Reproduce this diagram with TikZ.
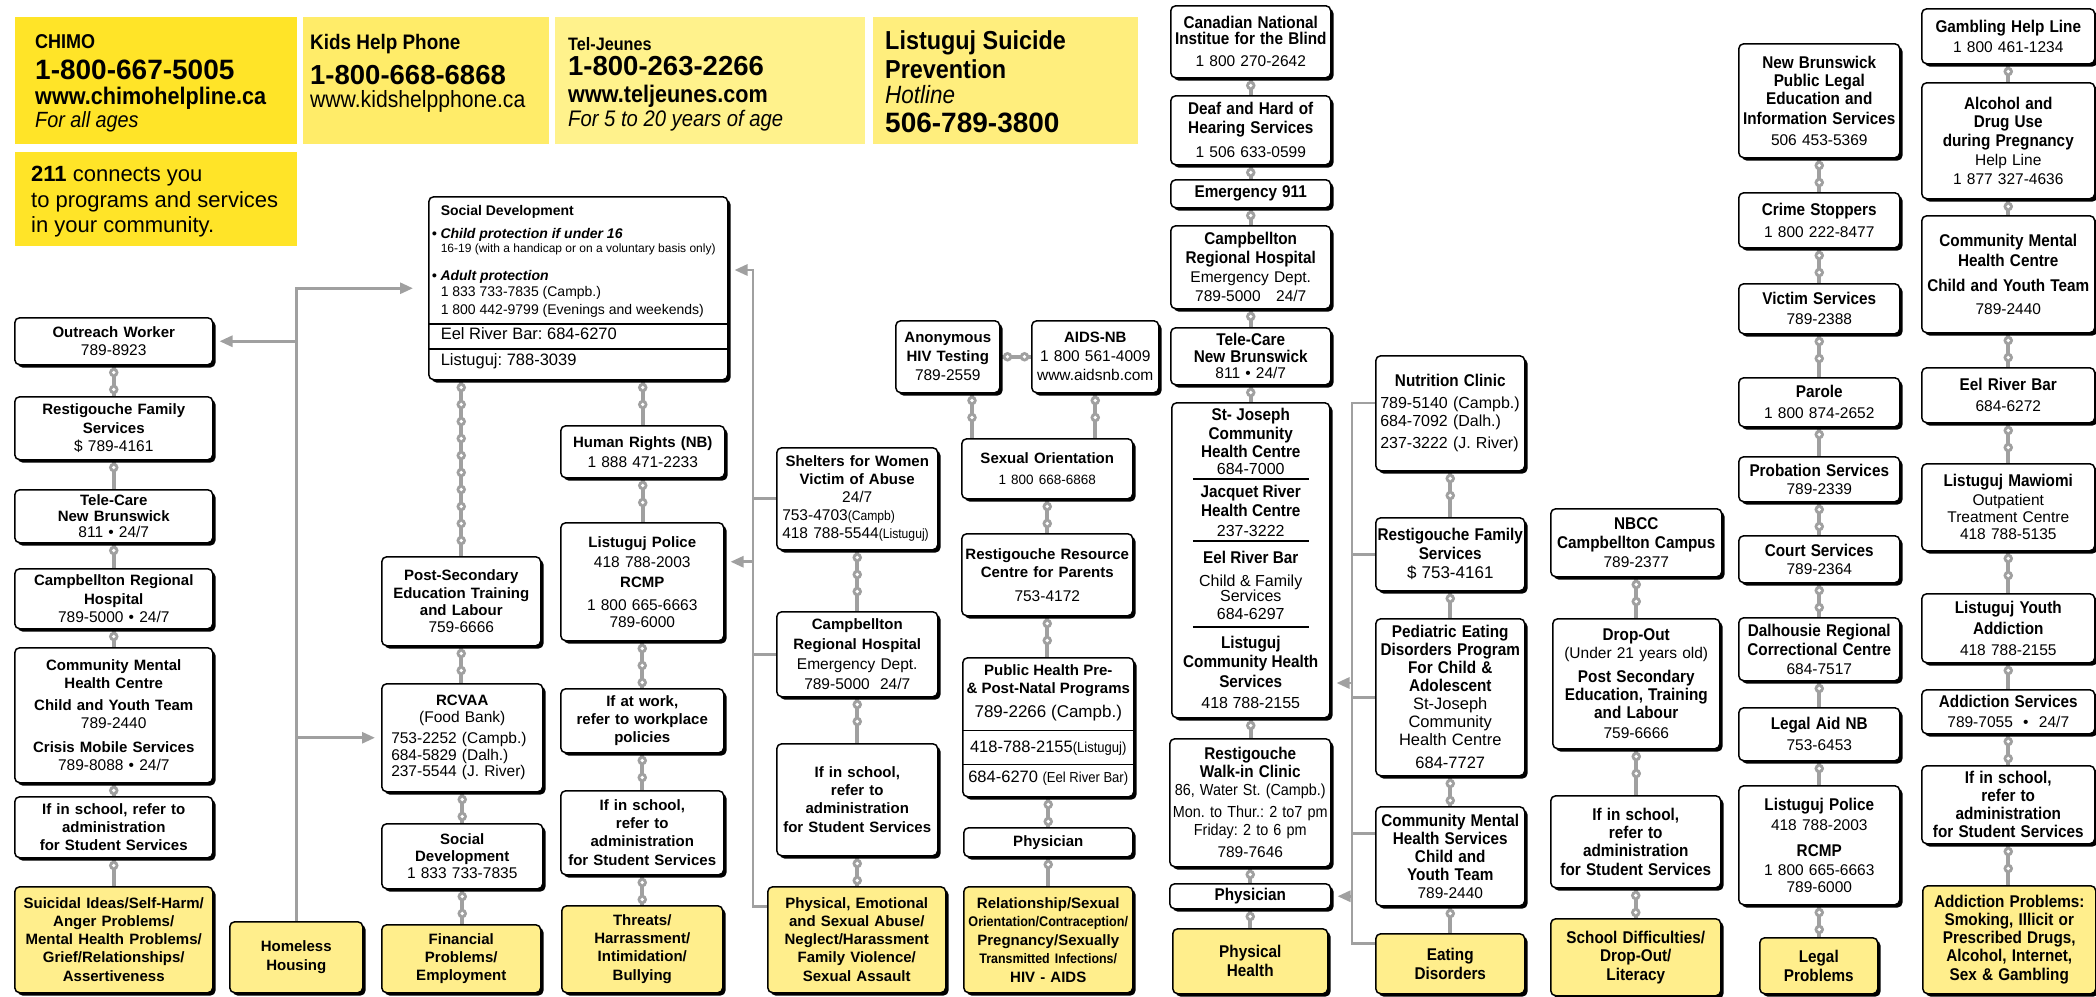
\documentclass[tikz,border=0pt]{standalone}
\usepackage{fontspec}
\setmainfont{Liberation Sans}
\newfontfamily\cond[FakeStretch=0.9]{Liberation Sans}
\frenchspacing
\definecolor{colchain}{RGB}{160,160,160}
\definecolor{colprob}{RGB}{255,238,140}
\definecolor{colchimo}{RGB}{255,228,40}
\definecolor{colkids}{RGB}{255,236,105}
\definecolor{coltel}{RGB}{255,242,140}
\definecolor{collist}{RGB}{255,238,125}
\newcommand{\headw}{\bfseries\fontsize{15}{18}\selectfont}
\newcommand{\headc}{\cond\bfseries\fontsize{17}{18}\selectfont}
\newcommand{\narrowtxt}{\cond\fontsize{13.5}{15}\selectfont}
\newcommand{\lsk}[1]{\baselineskip=#1pt\relax}
\usetikzlibrary{
	arrows.meta,
	shadows,
	backgrounds,
	decorations.markings
}
\tikzset{
	>={Triangle[length=13pt, width=11pt]},
	card/.style={draw, line width=1.5pt, rounded corners=5pt, fill=white, align=center, inner sep=0pt,
		font=\fontsize{15.5}{18.5}\selectfont,
		drop shadow={shadow xshift=2.8pt, shadow yshift=-2.8pt, opacity=1, fill=black}},
	probcard/.style={card, fill=colprob},
	lead/.style={font=\fontsize{15.5}{#1}\selectfont},
	spot/.style args={#1/#2/#3/#4}{
		/utils/exec={\pgfmathsetmacro\cardw{#3-#1}\pgfmathsetmacro\cardh{#4-#2}\pgfmathsetmacro\cardt{#3-#1-2}},
		anchor=north west, at={(#1,#2)},
		minimum width=\cardw pt, minimum height=\cardh pt, text width=\cardt pt},
	helpbox/.style={anchor=north west, inner ysep=0pt},
	chain/.style={draw=colchain, line width=3.6pt,
		postaction={decorate, decoration={markings,
			mark=between positions 7pt and -5pt step 17pt with {\fill[colchain] (0,0) circle (4.8pt); \fill[white] (0,0) circle (1.9pt);}}}},
	branch/.style={draw=colchain, line width=2.8pt},
	feed/.style={branch, ->, shorten >=6pt}
}

\begin{document}
\begin{tikzpicture}[x=1pt, y=-1pt]
	\useasboundingbox (0,0) rectangle (2096,996);

	% help lines along the top
	\node[helpbox, fill=colchimo, inner xsep=20pt] (chimo) at (15,17) {\parbox[c][127pt][t]{242pt}{%
		\vspace*{17pt}
		{\cond\bfseries\fontsize{20}{20}\selectfont CHIMO\par}
		{\bfseries\fontsize{28}{31}\selectfont 1-800-667-5005\par}
		{\cond\bfseries\fontsize{24}{25}\selectfont www.chimohelpline.ca\par}
		{\cond\itshape\fontsize{22}{23}\selectfont For all ages\par}}};
	\node[helpbox, fill=colkids, inner xsep=7pt] (kids) at (303,17) {\parbox[c][127pt][t]{232pt}{%
		\vspace*{17pt}
		{\cond\bfseries\fontsize{21}{21}\selectfont Kids Help Phone\par}
		{\bfseries\fontsize{27.5}{35}\selectfont 1-800-668-6868\par}
		{\cond\fontsize{23.5}{23}\selectfont www.kidshelpphone.ca\par}}};
	\node[helpbox, fill=coltel, inner xsep=13pt] (teljeunes) at (555,17) {\parbox[c][127pt][t]{284pt}{%
		\vspace*{20pt}
		{\cond\bfseries\fontsize{18}{18}\selectfont Tel-Jeunes\par}
		{\bfseries\fontsize{27.5}{25}\selectfont 1-800-263-2266\par}
		{\cond\bfseries\fontsize{24}{27.5}\selectfont www.teljeunes.com\par}
		{\cond\itshape\fontsize{22.5}{23.5}\selectfont For 5 to 20 years of age\par}}};
	\node[helpbox, fill=collist, inner xsep=12pt] (listuguj) at (873,17) {\parbox[c][127pt][t]{241pt}{%
		\vspace*{13pt}
		{\cond\bfseries\fontsize{26}{28}\selectfont Listuguj Suicide\par}
		{\cond\bfseries\fontsize{26}{29}\selectfont Prevention\par}
		{\cond\itshape\fontsize{25}{25}\selectfont Hotline\par}
		{\bfseries\fontsize{28}{29}\selectfont 506-789-3800\par}}};
	\node[helpbox, fill=colchimo, inner xsep=16pt] (twoeleven) at (15,152) {\parbox[c][94pt][t]{250pt}{%
		\vspace*{14pt}
		{\fontsize{22}{25.5}\selectfont\textbf{211} connects you\par}
		{\fontsize{22}{25.5}\selectfont to programs and services\par}
		{\fontsize{22}{25.5}\selectfont in your community.\par}}};

	% suicide / homeless column
	\node[card, spot=14/317/212/364] (outreach) {{\headw Outreach Worker}\\789-8923};
	\node[card, spot=14/396/212/459] (restfam) {{\headw Restigouche Family\\Services}\\\$ 789-4161};
	\node[card, lead=16, spot=14/489/212/542] (telecare) {{\headw Tele-Care\\New Brunswick}\\811 • 24/7};
	\node[card, spot=14/568/212/628] (crh) {{\headw Campbellton Regional\\Hospital}\\789-5000 • 24/7};
	\node[card, spot=14/647/212/782] (cmhc) {{\headw Community Mental\\Health Centre}\\[3pt]{\headw Child and Youth Team}\\789-2440\\[5pt]{\headw Crisis Mobile Services}\\789-8088 • 24/7};
	\node[card, spot=14/796/212/857] (schoola) {{\headw If in school, refer to\\administration\\for Student Services}};
	\node[probcard, lead=18.8, spot=14/886/212/992] (suicidal) {{\headw Suicidal Ideas/Self-Harm/\\Anger Problems/\\Mental Health Problems/\\Grief/Relationships/\\Assertiveness}};
	\node[probcard, spot=229/921/362/992] (homeless) {{\headw Homeless\\Housing}};

	% social development and financial column
	\node[card, anchor=north west] (socdev) at (428,196) {\parbox[c][183pt][t]{299pt}{\raggedright\leftskip=12pt
		\vspace*{9pt}
		{\bfseries\fontsize{14}{16}\selectfont Social Development\par}
		{\bfseries\itshape\fontsize{14}{23}\selectfont\hspace*{-9pt}• Child protection if under 16\par}
		{\fontsize{12}{14}\selectfont 16-19 (with a handicap or on a voluntary basis only)\par}
		{\bfseries\itshape\fontsize{14}{28}\selectfont\hspace*{-9pt}• Adult protection\par}
		{\fontsize{14}{16}\selectfont 1 833 733-7835 (Campb.)\par}
		{\fontsize{14}{18}\selectfont 1 800 442-9799 (Evenings and weekends)\par}
		{\fontsize{16.5}{25}\selectfont Eel River Bar: 684-6270\par}
		{\fontsize{16.5}{26}\selectfont Listuguj: 788-3039\par}}};
	\draw[line width=1.4pt] (socdev.west |- 0,324) -- (socdev.east |- 0,324);
	\draw[line width=1.4pt] (socdev.west |- 0,349) -- (socdev.east |- 0,349);
	\node[card, lead=17, spot=381/556/540/645] (postsec) {{\headw Post-Secondary\\Education Training\\and Labour}\\759-6666};
	\node[card, lead=16.5, spot=381/683/542/791] (rcvaa) {{\headw RCVAA}\\(Food Bank)\\[5pt]\makebox[142pt][l]{753-2252 (Campb.)}\\\makebox[142pt][l]{684-5829 (Dalh.)}\\\makebox[142pt][l]{237-5544 (J. River)}};
	\node[card, lead=17, spot=381/823/542/888] (socdev2) {{\headw Social\\Development}\\1 833 733-7835};
	\node[probcard, spot=381/924/540/992] (financial) {{\headw Financial\\Problems/\\Employment}};

	% threats column
	\node[card, lead=20, spot=560/425/724/477] (humrights) {{\headw Human Rights (NB)}\\1 888 471-2233};
	\node[card, lead=20, spot=560/522/723/640] (police1) {{\headw Listuguj Police}\\418 788-2003\\{\headw RCMP}\\[3pt]1 800 665-6663\\[-3pt]789-6000};
	\node[card, lead=18, spot=560/688/723/752] (atwork) {{\headw If at work,\\refer to workplace\\policies}};
	\node[card, spot=560/790/723/874] (schoold) {{\headw If in school,\\refer to\\administration\\for Student Services}};
	\node[probcard, spot=561/905/722/992] (threats) {{\headw Threats/\\Harrassment/\\Intimidation/\\Bullying}};

	% abuse column
	\node[card, lead=18, spot=776/447/937/549] (shelters) {{\headw Shelters for Women\\Victim of Abuse}\\24/7\\\makebox[150pt][l]{753-4703{\narrowtxt (Campb)}}\\\makebox[150pt][l]{418 788-5544{\narrowtxt (Listuguj)}}};
	\node[card, lead=20, spot=776/611/937/696] (crhb) {{\headw Campbellton\\Regional Hospital}\\Emergency Dept.\\789-5000\ \ 24/7};
	\node[card, lead=19, spot=776/743/937/855] (schoole) {{\headw If in school,\\refer to\\administration\\for Student Services}};
	\node[probcard, spot=767/886/945/992] (abuse) {{\headw Physical, Emotional\\and Sexual Abuse/\\Neglect/Harassment\\Family Violence/\\Sexual Assault}};

	% sexuality column
	\node[card, lead=19, spot=895/320/999/392] (hiv) {{\headw Anonymous\\HIV Testing}\\789-2559};
	\node[card, lead=19, spot=1031/320/1158/392] (aids) {{\headw AIDS-NB}\\1 800 561-4009\\www.aidsnb.com};
	\node[card, lead=21, spot=961/438/1132/498] (sexor) {{\headw Sexual Orientation}\\{\fontsize{13.5}{15}\selectfont 1 800 668-6868}};
	\node[card, lead=18, spot=961/533/1132/615] (resource) {{\headw Restigouche Resource\\Centre for Parents}\\[6pt]753-4172};
	\node[card, anchor=north west] (pubhealth) at (962,657) {\parbox[c][139pt][t]{171pt}{\centering
		\vspace*{7pt}
		{\bfseries\fontsize{15}{18}\selectfont Public Health Pre-\par}
		{\bfseries\fontsize{15}{18}\selectfont \& Post-Natal Programs\par}
		{\fontsize{17}{24}\selectfont 789-2266 (Campb.)\par}
		{\fontsize{16.5}{35}\selectfont 418-788-2155{\cond\fontsize{14.5}{35}\selectfont(Listuguj)}\par}
		{\fontsize{16.5}{30}\selectfont 684-6270 {\cond\fontsize{14.5}{30}\selectfont(Eel River Bar)}\par}}};
	\draw[line width=1.4pt] (pubhealth.west |- 0,730.5) -- (pubhealth.east |- 0,730.5);
	\draw[line width=1.4pt] (pubhealth.west |- 0,764.7) -- (pubhealth.east |- 0,764.7);
	\node[card, spot=963/827/1132/856] (physf) {{\headw Physician}};
	\node[probcard, spot=963/886/1132/992] (relation) {{\headw Relationship/Sexual}\\{\cond\bfseries\fontsize{14}{15}\selectfont Orientation/Contraception/}\\{\headw Pregnancy/Sexually}\\{\cond\bfseries\fontsize{13.8}{15}\selectfont Transmitted Infections/}\\{\headw HIV - AIDS}};

	% physical health column
	\node[card, lead=16, spot=1170/5/1330/77] (cnib) {{\headc Canadian National\\Institue for the Blind}\\[6pt]1 800 270-2642};
	\node[card, lead=19, spot=1170/95/1330/164] (deaf) {{\headc Deaf and Hard of\\Hearing Services}\\[5pt]1 506 633-0599};
	\node[card, spot=1170/179/1330/207] (emerg) {{\headc Emergency 911}};
	\node[card, lead=19, spot=1170/225/1330/308] (crhc) {{\headc Campbellton\\Regional Hospital}\\Emergency Dept.\\789-5000\ \ \ 24/7};
	\node[card, lead=16.5, spot=1170/327/1330/384] (telecareb) {{\headc Tele-Care\\New Brunswick}\\811 • 24/7};
	\node[card, anchor=north west] (stjoseph) at (1171,402) {\parbox[c][315pt][t]{158pt}{\centering
		\vspace*{5pt}
		{\headc\lsk{18} St- Joseph\par}
		{\headc\lsk{19} Community\par}
		{\headc\lsk{18} Health Centre\par}
		{\fontsize{16}{17}\selectfont 684-7000\par}
		{\headc\lsk{23} Jacquet River\par}
		{\headc\lsk{19} Health Centre\par}
		{\fontsize{16}{20}\selectfont 237-3222\par}
		{\headc\lsk{27} Eel River Bar\par}
		{\fontsize{16}{23}\selectfont Child \& Family\par}
		{\fontsize{16}{15}\selectfont Services\par}
		{\fontsize{16}{18}\selectfont 684-6297\par}
		{\headc\lsk{29} Listuguj\par}
		{\headc\lsk{19} Community Health\par}
		{\headc\lsk{20} Services\par}
		{\fontsize{16}{21}\selectfont 418 788-2155\par}}};
	\foreach \ry in {479,541,627}
		\draw[line width=1.6pt] (stjoseph.center |- 0,\ry) ++(-58,0) -- ++(116,0);
	\node[card, lead=18, spot=1169/738/1330/866] (walkin) {{\headc Restigouche\\Walk-in Clinic}\\{\cond\fontsize{16}{18}\selectfont 86, Water St. (Campb.)}\\[4pt]{\cond\fontsize{16}{18}\selectfont Mon. to Thur.: 2 to7 pm\\Friday: 2 to 6 pm}\\[4pt]789-7646};
	\node[card, spot=1169/883/1330/908] (physg) {{\headc Physician}};
	\node[probcard, lead=19, spot=1172/928/1327/993] (physhealth) {{\headc Physical\\Health}};

	% eating disorders column
	\node[card, lead=22, spot=1375/355/1524/470] (nutrition) {{\headc Nutrition Clinic}\\[4pt]{\fontsize{16}{18}\selectfont \makebox[140pt][l]{789-5140 (Campb.)}\\\makebox[140pt][l]{684-7092 (Dalh.)}\\\makebox[140pt][l]{237-3222 (J. River)}}};
	\node[card, lead=19, spot=1375/517/1524/590] (restfamb) {{\headc Restigouche Family\\Services}\\{\fontsize{17}{18}\selectfont \$ 753-4161}};
	\node[card, lead=18, spot=1375/618/1524/775] (pediatric) {{\headc Pediatric Eating\\Disorders Program\\For Child \&\\Adolescent}\\{\fontsize{16.5}{18}\selectfont St-Joseph\\Community\\Health Centre}\\[5pt]{\fontsize{16.5}{18}\selectfont 684-7727}};
	\node[card, lead=18, spot=1375/806/1524/905] (cmhs) {{\headc Community Mental\\Health Services\\Child and\\Youth Team}\\789-2440};
	\node[probcard, lead=19, spot=1375/933/1524/993] (eating) {{\headc Eating\\Disorders}};

	% school column
	\node[card, lead=19, spot=1550/508/1721/576] (nbcc) {{\headc NBCC\\Campbellton Campus}\\789-2377};
	\node[card, lead=18, spot=1552/618/1719/748] (dropout) {{\headc Drop-Out}\\(Under 21 years old)\\[6pt]{\headc Post Secondary\\Education, Training\\and Labour}\\[2pt]759-6666};
	\node[card, lead=19, spot=1550/795/1720/887] (schooli) {{\headc If in school,\\refer to\\administration\\for Student Services}};
	\node[probcard, lead=19, spot=1550/918/1720/995] (schooldiff) {{\headc School Difficulties/\\Drop-Out/\\Literacy}};

	% legal column
	\node[card, lead=20.5, spot=1738/43/1899/157] (pled) {{\headc New Brunswick\\Public Legal\\Education and\\Information Services}\\506 453-5369};
	\node[card, lead=22, spot=1738/192/1899/247] (crime) {{\headc Crime Stoppers}\\1 800 222-8477};
	\node[card, lead=20, spot=1738/283/1899/333] (victim) {{\headc Victim Services}\\789-2388};
	\node[card, lead=21, spot=1738/377/1899/426] (parole) {{\headc Parole}\\1 800 874-2652};
	\node[card, lead=18, spot=1738/456/1899/501] (probation) {{\headc Probation Services}\\789-2339};
	\node[card, lead=18, spot=1738/535/1899/582] (court) {{\headc Court Services}\\789-2364};
	\node[card, lead=19, spot=1738/617/1899/680] (dalhousie) {{\headc Dalhousie Regional\\Correctional Centre}\\684-7517};
	\node[card, lead=21, spot=1738/707/1899/760] (legalaid) {{\headc Legal Aid NB}\\753-6453};
	\node[card, lead=18, spot=1738/785/1899/904] (policeb) {{\headc Listuguj Police}\\[2pt]418 788-2003\\[8pt]{\headc RCMP}\\[1pt]1 800 665-6663\\[-1pt]789-6000};
	\node[probcard, lead=19, spot=1759/937/1877/993] (legal) {{\headc Legal\\Problems}};

	% addiction column
	\node[card, lead=20, spot=1921/8/2094/63] (gambling) {{\headc Gambling Help Line}\\1 800 461-1234};
	\node[card, lead=19, spot=1921/82/2094/198] (alcohol) {{\headc Alcohol and\\Drug Use\\during Pregnancy}\\Help Line\\1 877 327-4636};
	\node[card, lead=20, spot=1921/215/2094/332] (cmhcb) {{\headc Community Mental\\Health Centre}\\[5pt]{\headc Child and Youth Team}\\[3pt]789-2440};
	\node[card, lead=21, spot=1921/367/2094/422] (eelriver) {{\headc Eel River Bar}\\684-6272};
	\node[card, lead=17, spot=1921/463/2094/550] (mawiomi) {{\headc Listuguj Mawiomi}\\[2pt]Outpatient\\Treatment Centre\\418 788-5135};
	\node[card, lead=21, spot=1921/593/2094/662] (youth) {{\headc Listuguj Youth\\Addiction}\\418 788-2155};
	\node[card, lead=20, spot=1921/689/2094/733] (addserv) {{\headc Addiction Services}\\789-7055\ \ •\ \ 24/7};
	\node[card, lead=18, spot=1921/765/2094/843] (schoolk) {{\headc If in school,\\refer to\\administration\\for Student Services}};
	\node[probcard, lead=18.5, spot=1922/885/2095/993] (addiction) {{\headc Addiction Problems:\\Smoking, Illicit or\\Prescribed Drugs,\\Alcohol, Internet,\\Sex \& Gambling}};

	% chains behind the cards
	\coordinate (fl) at ([xshift=11pt]sexor.north west);
	\begin{pgfonlayer}{background}
		\foreach \a/\b in {outreach/restfam, restfam/telecare, telecare/crh, crh/cmhc, cmhc/schoola, schoola/suicidal,
			postsec/rcvaa, rcvaa/socdev2, socdev2/financial,
			humrights/police1, police1/atwork, atwork/schoold, schoold/threats,
			shelters/crhb, crhb/schoole, schoole/abuse,
			sexor/resource, resource/pubhealth, pubhealth/physf, physf/relation,
			cnib/deaf, deaf/emerg, emerg/crhc, crhc/telecareb, telecareb/stjoseph, stjoseph/walkin, walkin/physg, physg/physhealth,
			nutrition/restfamb, restfamb/pediatric, pediatric/cmhs, cmhs/eating,
			nbcc/dropout, dropout/schooli, schooli/schooldiff,
			pled/crime, crime/victim, victim/parole, parole/probation, probation/court, court/dalhousie, dalhousie/legalaid, legalaid/policeb, policeb/legal,
			gambling/alcohol, alcohol/cmhcb, cmhcb/eelriver, eelriver/mawiomi, mawiomi/youth, youth/addserv, addserv/schoolk, schoolk/addiction}
			\draw[chain] (\a.south) -- (\a.south |- \b.north);
		\draw[chain] (socdev.south -| postsec.north) -- (postsec.north);
		\draw[chain] (socdev.south -| humrights.north) -- (humrights.north);
		\draw[chain] (hiv.east) -- (aids.west);
		\draw[chain] (fl |- hiv.south) -- (fl);
		\draw[chain] (aids.south) -- (aids.south |- sexor.north);
	\end{pgfonlayer}

	% homeless tree
	\draw[feed, shorten >=15pt] (homeless.north) |- (socdev.west);
	\draw[feed] (homeless.north |- outreach.east) -- (outreach.east);
	\draw[feed] (homeless.north |- rcvaa.west) -- (rcvaa.west);

	% abuse tree
	\coordinate (ehub) at (753,270);
	\coordinate (ptap) at ([yshift=20pt]police1.east);
	\draw[feed] ([yshift=33pt]abuse.west) -| (ehub) -- (ehub -| socdev.east);
	\draw[branch] (ehub |- shelters.west) -- (shelters.west);
	\draw[branch] (ehub |- crhb.west) -- (crhb.west);
	\draw[feed] (ehub |- ptap) -- (ptap);

	% eating disorders tree
	\coordinate (hhub) at (1352,403);
	\coordinate (ctap) at ([yshift=23pt]cmhs.west);
	\coordinate (stap) at (stjoseph.east |- 0,683);
	\draw[branch] (hhub -| nutrition.west) -- (hhub) |- ([yshift=20pt]eating.west);
	\draw[branch] (hhub |- restfamb.west) -- (restfamb.west);
	\draw[branch] (hhub |- pediatric.west) -- (pediatric.west);
	\draw[branch] (hhub |- ctap) -- (ctap);
	\draw[feed] (hhub |- stap) -- (stap);
	\draw[feed] (hhub |- physg.east) -- (physg.east);
\end{tikzpicture}
\end{document}
